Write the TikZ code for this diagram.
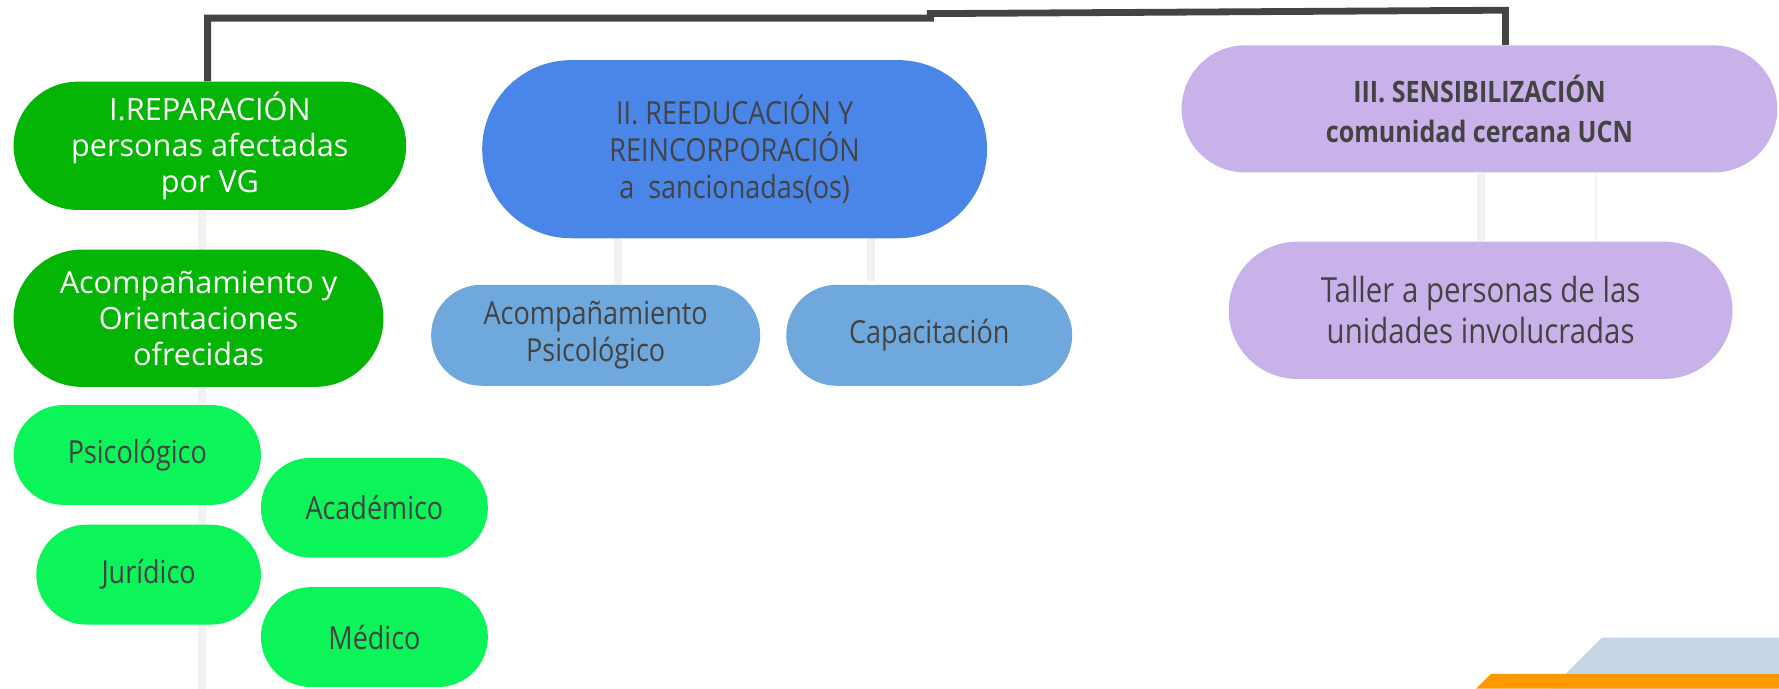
\documentclass[tikz,border=0pt]{standalone}
\usepackage{fontspec}
\setmainfont{Open Sans}
\newfontfamily\condf{Open Sans}[FakeStretch=0.85]
\usetikzlibrary{calc,backgrounds}
\definecolor{gdark}{RGB}{5,181,5}
\definecolor{glight}{RGB}{11,245,90}
\definecolor{bmain}{HTML}{4A86E8}
\definecolor{bsub}{HTML}{6FA8DC}
\definecolor{purp}{RGB}{201,178,233}
\definecolor{txt}{HTML}{434343}
\definecolor{dline}{HTML}{444444}
\definecolor{lline}{HTML}{F2F2F2}
\definecolor{cblue}{RGB}{198,212,231}
\definecolor{corange}{HTML}{FF9900}
\begin{document}
\begin{tikzpicture}[x=1pt,y=-1pt,
  pill/.style={inner sep=0pt, align=center, text=txt},
  gmainbox/.style={pill, fill=gdark, text=white, font=\fontsize{27}{31.5}\selectfont},
  gsubbox/.style={pill, fill=glight, font=\condf\fontsize{28}{30}\selectfont, minimum height=88pt, rounded corners=43.9pt},
  bmainbox/.style={pill, fill=bmain, font=\condf\fontsize{28}{33}\selectfont},
  bsubbox/.style={pill, fill=bsub, font=\condf\fontsize{28}{32}\selectfont, minimum height=89pt, rounded corners=44.4pt},
  pbox/.style={pill, fill=purp},
  darkconn/.style={draw=dline, line width=6pt, line join=miter},
  lightconn/.style={draw=lline, line width=7pt},
  thinconn/.style={draw=lline, line width=2pt}]
\useasboundingbox (0,0) rectangle (1568,607);

% coordinates for connectors
\coordinate (lx) at (178,607);
\coordinate (bx1) at (545,0);
\coordinate (bx2) at (768,0);
\coordinate (px1) at (1305,0);
\coordinate (px2) at (1407,0);
\coordinate (t1) at (183,16);
\coordinate (t2) at (820,16);
\coordinate (t3) at (820,12);
\coordinate (t4) at (1327,9);
\coordinate (b3top) at (768,248);

% nodes
\path
  node[gmainbox, minimum width=346pt, minimum height=113pt, rounded corners=56.4pt] (g1) at (185,128.5) {I.REPARACIÓN\\personas afectadas\\por VG}
  node[gmainbox, minimum width=326pt, minimum height=121pt, rounded corners=60.4pt] (g2) at (175,280.5) {Acompañamiento y\\Orientaciones\\ofrecidas}
  node[gsubbox, minimum width=218pt] (psi) at (121,401) {Psicológico}
  node[gsubbox, minimum width=200pt] (aca) at (330,447.5) {Académico}
  node[gsubbox, minimum width=198pt] (jur) at (131,506.5) {Jurídico}
  node[gsubbox, minimum width=200pt] (med) at (330,561.5) {Médico}
  node[bmainbox, minimum width=445pt, minimum height=157pt, rounded corners=78.4pt] (b1) at (647.5,131.5) {II. REEDUCACIÓN Y\\REINCORPORACIÓN\\a\ \ sancionadas(os)}
  node[bsubbox, minimum width=290pt] (b2) at (525,295.5) {Acompañamiento\\Psicológico}
  node[bsubbox, minimum width=252pt] (b3) at (819,295.5) {Capacitación}
  node[pbox, minimum width=525pt, minimum height=112pt, rounded corners=55.9pt, font=\condf\bfseries\fontsize{26}{35}\selectfont] (p1) at (1304,96) {III. SENSIBILIZACIÓN\\comunidad cercana UCN}
  node[pbox, minimum width=444pt, minimum height=121pt, rounded corners=60.4pt, font=\condf\fontsize{30.5}{36}\selectfont] (p2) at (1305,273.5) {Taller a personas de las\\unidades involucradas};

% connectors behind the boxes
\begin{scope}[on background layer]
  \draw[lightconn] (lx |- g1.south) -- (lx);
  \draw[lightconn] (bx1 |- b1.south) -- (bx1 |- b2.north);
  \draw[lightconn] (bx2 |- b1.south) -- (b3top);
  \draw[lightconn] (px1 |- p1.south) -- (px1 |- p2.north);
  \draw[thinconn] (px2 |- p1.south) -- (px2 |- p2.north);
  \draw[darkconn] (t1 |- g1.north) -- (t1) -- (t2) -- (t3) -- (t4) -- (t4 |- p1.north);
\end{scope}

% decorative corner shapes
\fill[cblue] (1412,562) -- (1568,562) -- (1568,607) -- (1367,607) -- cycle;
\fill[corange] (1314,594) -- (1568,594) -- (1568,607) -- (1301,607) -- cycle;
\end{tikzpicture}
\end{document}
